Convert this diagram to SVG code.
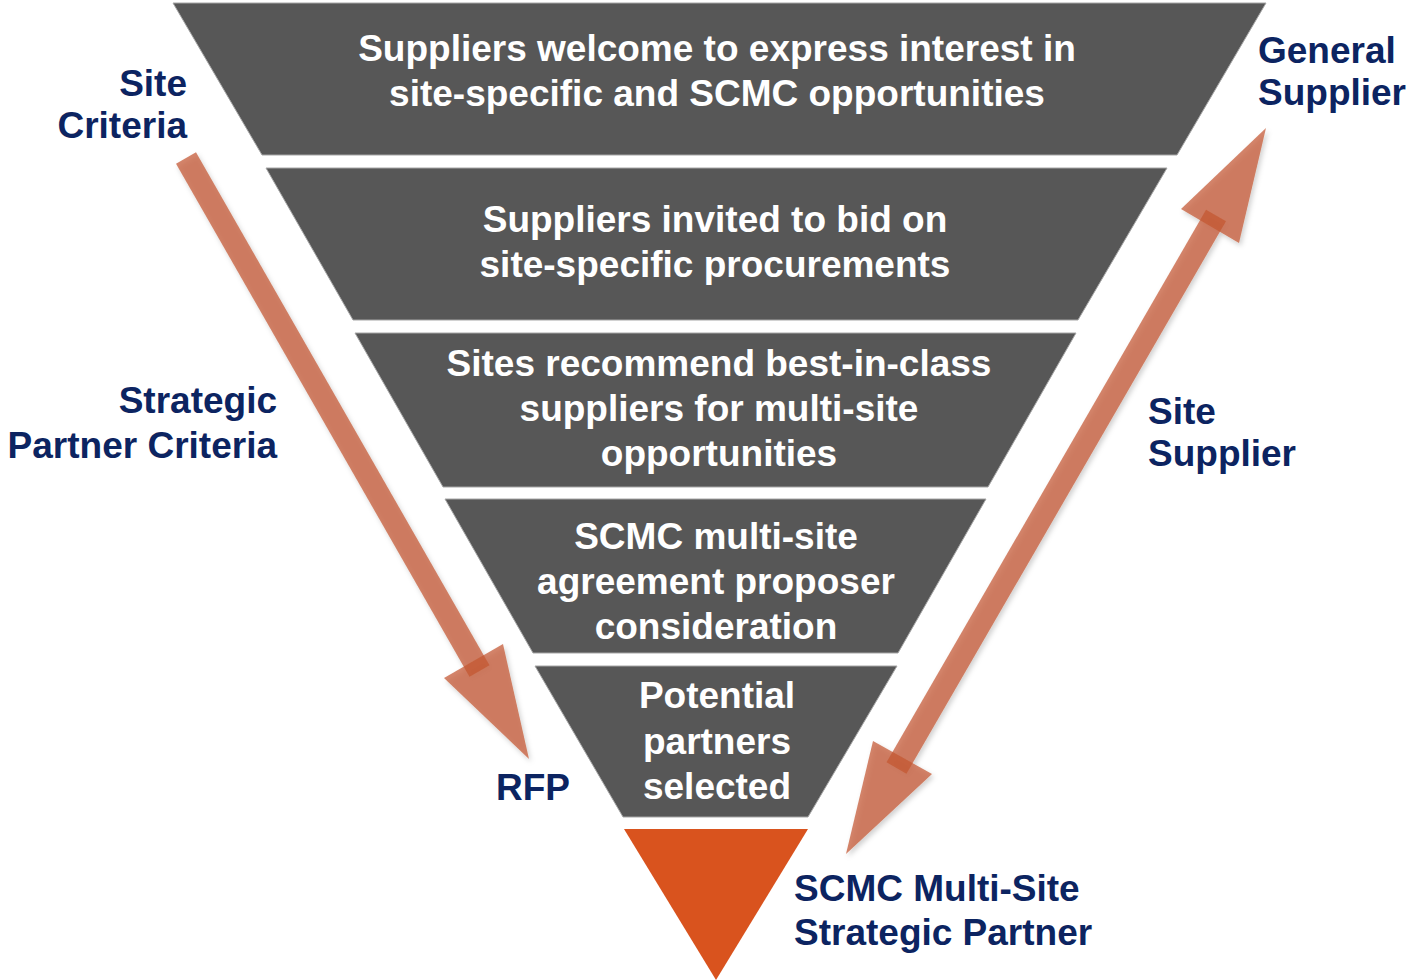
<svg xmlns="http://www.w3.org/2000/svg" width="1409" height="980" viewBox="0 0 1409 980">
  <defs>
    <style>
      .band { fill: #575757; stroke: #a6a6a6; stroke-width: 1; }
      .core { fill: #D9531E; }
      .band-text { font-family: "Liberation Sans", Arial, sans-serif; font-weight: bold; font-size: 37px; fill: #ffffff; text-anchor: middle; }
      .label { font-family: "Liberation Sans", Arial, sans-serif; font-weight: bold; font-size: 37px; fill: #0c2461; }
      .shaft { stroke: #C35630; stroke-opacity: 0.72; stroke-width: 23; fill: none; }
      .head { fill: #C35630; fill-opacity: 0.72; }
    </style>
    <filter id="soft-shadow" x="-10%" y="-10%" width="120%" height="120%">
      <feDropShadow dx="2" dy="3" stdDeviation="2.5" flood-color="#000000" flood-opacity="0.25"/>
    </filter>
  </defs>

  <rect width="1409" height="980" fill="#ffffff"/>

  <!-- funnel stages -->
  <g id="stage-1">
    <polygon class="band" points="173,3 1266,3 1177,155 262,155"/>
    <text class="band-text" x="717" y="61">Suppliers welcome to express interest in</text>
    <text class="band-text" x="717" y="106">site-specific and SCMC opportunities</text>
  </g>
  <g id="stage-2">
    <polygon class="band" points="266,168 1167,168 1078,320 353,320"/>
    <text class="band-text" x="715" y="232">Suppliers invited to bid on</text>
    <text class="band-text" x="715" y="277">site-specific procurements</text>
  </g>
  <g id="stage-3">
    <polygon class="band" points="355,333 1076,333 988,487 443,487"/>
    <text class="band-text" x="719" y="376">Sites recommend best-in-class</text>
    <text class="band-text" x="719" y="421">suppliers for multi-site</text>
    <text class="band-text" x="719" y="466">opportunities</text>
  </g>
  <g id="stage-4">
    <polygon class="band" points="445,499 986,499 898,653 533,653"/>
    <text class="band-text" x="716" y="549">SCMC multi-site</text>
    <text class="band-text" x="716" y="594">agreement proposer</text>
    <text class="band-text" x="716" y="639">consideration</text>
  </g>
  <g id="stage-5">
    <polygon class="band" points="535,666 897,666 808,817 623,817"/>
    <text class="band-text" x="717" y="708">Potential</text>
    <text class="band-text" x="717" y="754">partners</text>
    <text class="band-text" x="717" y="799">selected</text>
  </g>
  <g id="stage-6">
    <polygon class="core" points="624,829 808,829 716,980"/>
  </g>

  <!-- side labels -->
  <g id="label-site-criteria">
    <text class="label" x="187" y="96" text-anchor="end">Site</text>
    <text class="label" x="187" y="138" text-anchor="end">Criteria</text>
  </g>
  <g id="label-strategic-criteria">
    <text class="label" x="277" y="413" text-anchor="end">Strategic</text>
    <text class="label" x="277" y="458" text-anchor="end">Partner Criteria</text>
  </g>
  <g id="label-rfp">
    <text class="label" x="496" y="800">RFP</text>
  </g>
  <g id="label-general-supplier">
    <text class="label" x="1258" y="63">General</text>
    <text class="label" x="1258" y="105">Supplier</text>
  </g>
  <g id="label-site-supplier">
    <text class="label" x="1148" y="424">Site</text>
    <text class="label" x="1148" y="466">Supplier</text>
  </g>
  <g id="label-partner">
    <text class="label" x="794" y="901">SCMC Multi-Site</text>
    <text class="label" x="794" y="945">Strategic Partner</text>
  </g>

  <!-- connectors -->
  <g id="connectors" filter="url(#soft-shadow)">
    <line class="shaft" x1="186" y1="158" x2="479.5" y2="671"/>
    <polygon class="head" points="444,678 503,644 529,759"/>
    <line class="shaft" x1="896.5" y1="768" x2="1216" y2="215.6"/>
    <polygon class="head" points="1266,128 1181,209 1239,243"/>
    <polygon class="head" points="846,854 873,741 932,774"/>
  </g>
</svg>
